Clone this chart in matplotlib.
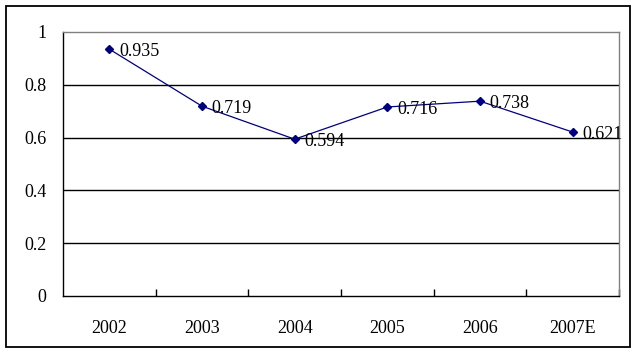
import matplotlib
matplotlib.use("Agg")
import matplotlib.pyplot as plt
from matplotlib.patches import Rectangle
from matplotlib.ticker import FixedLocator, NullFormatter

categories = ["2002", "2003", "2004", "2005", "2006", "2007E"]
values = [0.935, 0.719, 0.594, 0.716, 0.738, 0.621]
y_ticks = [0, 0.2, 0.4, 0.6, 0.8, 1.0]
y_tick_labels = ["0", "0.2", "0.4", "0.6", "0.8", "1"]

W, H = 638, 354
fig = plt.figure(figsize=(W / 100, H / 100), dpi=100)
plt.rcParams['font.family'] = ['Liberation Serif', 'DejaVu Serif']
FS = 13

# outer border
fig.add_artist(Rectangle((6 / W, 1 - 347 / H), (630 - 6) / W, (347 - 6) / H,
                         transform=fig.transFigure, fill=False,
                         edgecolor='black', linewidth=1.3))

left, right, top, bottom = 63, 619, 32, 296
ax = fig.add_axes([left / W, 1 - bottom / H, (right - left) / W, (bottom - top) / H])

n = len(categories)
xs = list(range(n))
ax.plot(xs, values, color='#000080', linewidth=0.9, marker='D', markersize=4.5,
        markerfacecolor='#000080', markeredgecolor='#000080', zorder=5)
for x, v in zip(xs, values):
    ax.annotate(f"{v:.3f}", (x, v), xytext=(7, -1.5), textcoords='offset points',
                ha='left', va='center', fontsize=FS, color='black', zorder=6)

ax.set_xlim(-0.5, n - 0.5)
ax.set_ylim(0, 1)

for g in y_ticks[1:-1]:
    ax.axhline(g, color='black', linewidth=1.0, zorder=1)

ax.spines['left'].set_color('black')
ax.spines['bottom'].set_color('black')
ax.spines['top'].set_color('#808080')
ax.spines['right'].set_color('#808080')
for s in ax.spines.values():
    s.set_linewidth(1.0)

ax.set_yticks(y_ticks)
ax.set_yticklabels(y_tick_labels, fontsize=FS)
ax.tick_params(axis='y', length=0, pad=12)

ax.set_xticks(xs)
ax.set_xticklabels(categories, fontsize=FS)
ax.tick_params(axis='x', which='major', length=0, pad=17)
ax.xaxis.set_minor_locator(FixedLocator([i + 0.5 for i in range(n - 1)] + [n - 0.5]))
ax.xaxis.set_minor_formatter(NullFormatter())
ax.tick_params(axis='x', which='minor', direction='in', length=5, width=1.0, color='black')

fig.savefig("out.png", dpi=100)
